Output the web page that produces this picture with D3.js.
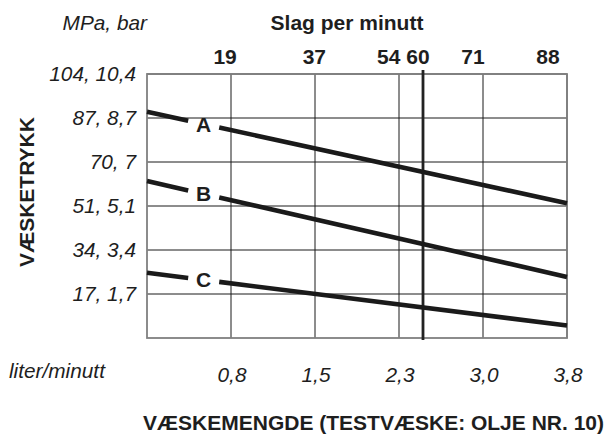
<!DOCTYPE html>
<html>
<head>
<meta charset="utf-8">
<script src="https://cdn.jsdelivr.net/npm/d3@7"></script>
<style>
  body { margin: 0; background: #fff; }
  svg { display: block; font-family: "Liberation Sans", Arial, sans-serif; }
  .it { font-style: italic; font-size: 20.8px; fill: #1e1e1e; }
  .bd { font-weight: bold; font-size: 21px; fill: #1e1e1e; }
</style>
</head>
<body>
<svg id="chart" width="606" height="444"></svg>
<script>
// flow (liter/minutt) on the bottom axis
const flowTicks = [0.8, 1.5, 2.3, 3.0, 3.8];
const flowLabels = ['0,8', '1,5', '2,3', '3,0', '3,8'];
// strokes per minute on the top axis
const strokeTicks = [19, 37, 54, 60, 71, 88];
const markedStroke = 60;
const markedFlow = 2.5;
// pressure (MPa) on the left axis
const pressureTicks = [17, 34, 51, 70, 87, 104];
const pressureLabels = ['17, 1,7', '34, 3,4', '51, 5,1', '70, 7', '87, 8,7', '104, 10,4'];
// curves A, B, C : pressure at left edge (flow 0) and at 3,8 l/min
const seriesNames = ['A', 'B', 'C'];
const seriesStart = [89.4, 61.8, 25.2];
const seriesEnd = [52.2, 23.6, 4.8];
const labelFlow = 0.54;

const margin = { left: 147, right: 39, top: 74, bottom: 106 };
const W = 606, H = 444;
const w = W - margin.left - margin.right;
const h = H - margin.top - margin.bottom;

const svg = d3.select('#chart');

// grid is evenly spaced even though the values are not
const x = d3.scaleLinear()
  .domain([0, ...flowTicks])
  .range(d3.range(flowTicks.length + 1).map(i => margin.left + i * w / flowTicks.length));
const y = d3.scaleLinear()
  .domain([0, ...pressureTicks])
  .range(d3.range(pressureTicks.length + 1).map(i => margin.top + h - i * h / pressureTicks.length));
const strokeToFlow = s => s * markedFlow / markedStroke;

/// grid
svg.append('g').selectAll('line').data(flowTicks).enter().append('line')
  .attr('x1', d => x(d)).attr('x2', d => x(d))
  .attr('y1', margin.top).attr('y2', margin.top + h)
  .attr('stroke', '#1a1a1a').attr('stroke-width', 1);
svg.append('g').selectAll('line').data(pressureTicks).enter().append('line')
  .attr('x1', margin.left).attr('x2', margin.left + w)
  .attr('y1', d => y(d)).attr('y2', d => y(d))
  .attr('stroke', '#1a1a1a').attr('stroke-width', 1);

// frame
svg.append('rect')
  .attr('x', margin.left).attr('y', margin.top).attr('width', w).attr('height', h)
  .attr('fill', 'none').attr('stroke', '#808080').attr('stroke-width', 1.8);

// marked stroke rate (60)
svg.append('line')
  .attr('x1', x(markedFlow)).attr('x2', x(markedFlow))
  .attr('y1', margin.top - 4).attr('y2', margin.top + h + 2)
  .attr('stroke', '#222').attr('stroke-width', 2.8);

/// curves, broken where the letter sits
const line = d3.line();
const gap = 15.5;
seriesNames.forEach((name, i) => {
  const p0 = [x(0), y(seriesStart[i])];
  const p1 = [x(flowTicks[flowTicks.length - 1]), y(seriesEnd[i])];
  const at = px => [px, p0[1] + (px - p0[0]) * (p1[1] - p0[1]) / (p1[0] - p0[0])];
  const lx = x(labelFlow);
  [[p0, at(lx - gap)], [at(lx + gap), p1]].forEach(seg => {
    svg.append('path').attr('d', line(seg))
      .attr('fill', 'none').attr('stroke', '#1a1a1a').attr('stroke-width', 4.6);
  });
  svg.append('text').attr('class', 'bd')
    .attr('x', lx).attr('y', at(lx)[1]).attr('dy', '0.36em')
    .attr('text-anchor', 'middle').text(name);
});

/// left axis labels
svg.append('g').selectAll('text').data(pressureTicks).enter().append('text')
  .attr('class', 'it')
  .attr('x', margin.left - 11).attr('y', d => y(d)).attr('dy', '0.36em')
  .attr('text-anchor', 'end')
  .text((d, i) => pressureLabels[i]);

/// bottom axis labels
svg.append('g').selectAll('text').data(flowTicks).enter().append('text')
  .attr('class', 'it')
  .attr('x', d => x(d) + 1).attr('y', 382)
  .attr('text-anchor', 'middle')
  .text((d, i) => flowLabels[i]);

/// top axis labels
svg.append('g').selectAll('text').data(strokeTicks).enter().append('text')
  .attr('class', 'bd')
  .attr('x', d => x(strokeToFlow(d)) - 5).attr('y', 64)
  .attr('text-anchor', 'middle')
  .text(d => d);

// titles
svg.append('text').attr('class', 'it').attr('x', margin.left).attr('y', 30)
  .attr('text-anchor', 'end').text('MPa, bar');
svg.append('text').attr('class', 'bd').attr('x', 347).attr('y', 30)
  .attr('text-anchor', 'middle').text('Slag per minutt');
svg.append('text').attr('class', 'it').attr('x', 9).attr('y', 378)
  .text('liter/minutt');
svg.append('text').attr('class', 'bd').attr('x', 604).attr('y', 430)
  .attr('text-anchor', 'end').text('VÆSKEMENGDE (TESTVÆSKE: OLJE NR. 10)');
svg.append('text').attr('class', 'bd')
  .attr('transform', 'translate(34,192) rotate(-90)')
  .attr('text-anchor', 'middle').text('VÆSKETRYKK');
</script>
</body>
</html>
